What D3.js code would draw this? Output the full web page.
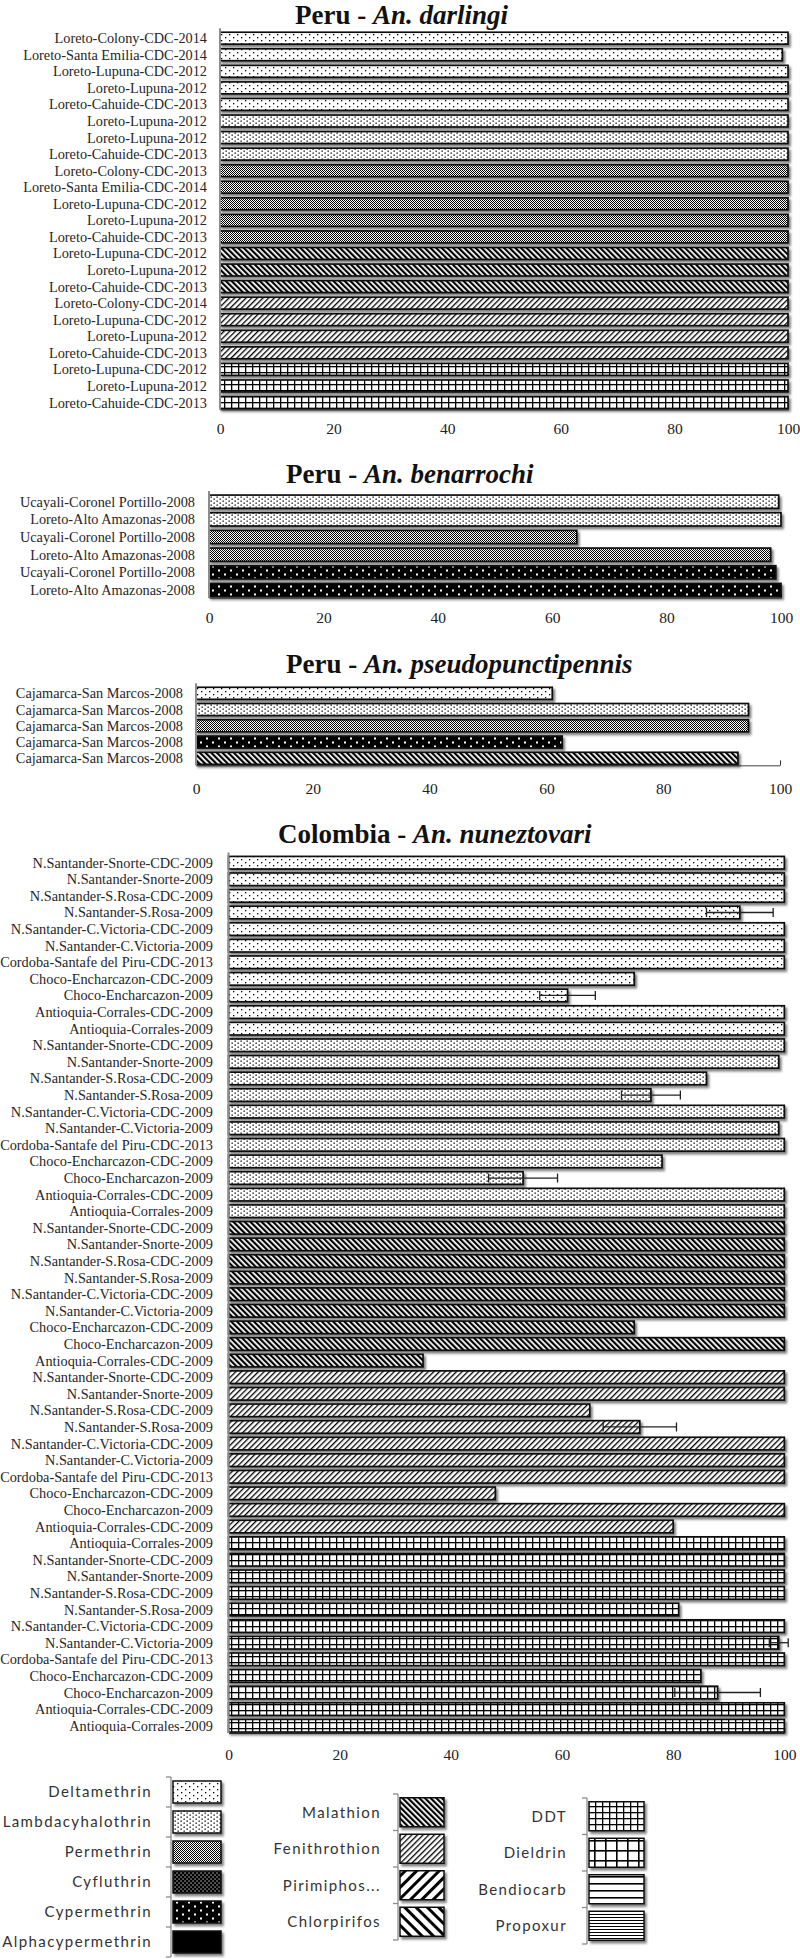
<!DOCTYPE html>
<html>
<head>
<meta charset="utf-8">
<script src="https://cdn.jsdelivr.net/npm/d3@7"></script>
<style>
  body { margin: 0; background: #fff; }
  .site { font-family: "Liberation Serif", serif; font-size: 14.3px; fill: #262626; }
  .title { font-family: "Liberation Serif", serif; font-size: 27px; font-weight: bold; fill: #111; }
  .tick text { font-family: "Liberation Serif", serif; font-size: 15.5px; fill: #222; }
  .leg { font-family: Lato, sans-serif; font-size: 15px; letter-spacing: 1.4px; fill: #333; }
</style>
</head>
<body>
<div id="chart"></div>
<script>
// insecticides, legend order
var insecticides = ["Deltamethrin", "Lambdacyhalothrin", "Permethrin", "Cyfluthrin", "Cypermethrin", "Alphacypermethrin",
  "Malathion", "Fenithrothion", "Pirimiphos...", "Chlorpirifos",
  "DDT", "Dieldrin", "Bendiocarb", "Propoxur"];

var ticks = [0, 20, 40, 60, 80, 100];

// Peru - An. darlingi
var darlingiSites = [
  "Loreto-Colony-CDC-2014", "Loreto-Santa Emilia-CDC-2014", "Loreto-Lupuna-CDC-2012", "Loreto-Lupuna-2012", "Loreto-Cahuide-CDC-2013",
  "Loreto-Lupuna-2012", "Loreto-Lupuna-2012", "Loreto-Cahuide-CDC-2013",
  "Loreto-Colony-CDC-2013", "Loreto-Santa Emilia-CDC-2014", "Loreto-Lupuna-CDC-2012", "Loreto-Lupuna-2012", "Loreto-Cahuide-CDC-2013",
  "Loreto-Lupuna-CDC-2012", "Loreto-Lupuna-2012", "Loreto-Cahuide-CDC-2013",
  "Loreto-Colony-CDC-2014", "Loreto-Lupuna-CDC-2012", "Loreto-Lupuna-2012", "Loreto-Cahuide-CDC-2013",
  "Loreto-Lupuna-CDC-2012", "Loreto-Lupuna-2012", "Loreto-Cahuide-CDC-2013"];
var darlingiGroups = [["Deltamethrin", 5], ["Lambdacyhalothrin", 3], ["Permethrin", 5], ["Malathion", 3], ["Fenithrothion", 4], ["DDT", 3]];
var darlingiValues = [100, 99, 100, 100, 100, 100, 100, 100, 100, 100, 100, 100, 100, 100, 100, 100, 100, 100, 100, 100, 100, 100, 100];

// Peru - An. benarrochi
var benarrochiSites = ["Ucayali-Coronel Portillo-2008", "Loreto-Alto Amazonas-2008", "Ucayali-Coronel Portillo-2008",
  "Loreto-Alto Amazonas-2008", "Ucayali-Coronel Portillo-2008", "Loreto-Alto Amazonas-2008"];
var benarrochiGroups = [["Lambdacyhalothrin", 2], ["Permethrin", 2], ["Cypermethrin", 2]];
var benarrochiValues = [99.6, 100, 64.3, 98.2, 99.1, 100];

// Peru - An. pseudopunctipennis
var pseudoSites = ["Cajamarca-San Marcos-2008", "Cajamarca-San Marcos-2008", "Cajamarca-San Marcos-2008",
  "Cajamarca-San Marcos-2008", "Cajamarca-San Marcos-2008"];
var pseudoGroups = [["Deltamethrin", 1], ["Lambdacyhalothrin", 1], ["Permethrin", 1], ["Cypermethrin", 1], ["Malathion", 1]];
var pseudoValues = [61, 94.6, 94.6, 62.7, 92.8];

// Colombia - An. nuneztovari
var colombiaSites = [
  "N.Santander-Snorte-CDC-2009", "N.Santander-Snorte-2009", "N.Santander-S.Rosa-CDC-2009", "N.Santander-S.Rosa-2009",
  "N.Santander-C.Victoria-CDC-2009", "N.Santander-C.Victoria-2009", "Cordoba-Santafe del Piru-CDC-2013",
  "Choco-Encharcazon-CDC-2009", "Choco-Encharcazon-2009", "Antioquia-Corrales-CDC-2009", "Antioquia-Corrales-2009",
  "N.Santander-Snorte-CDC-2009", "N.Santander-Snorte-2009", "N.Santander-S.Rosa-CDC-2009", "N.Santander-S.Rosa-2009",
  "N.Santander-C.Victoria-CDC-2009", "N.Santander-C.Victoria-2009", "Cordoba-Santafe del Piru-CDC-2013",
  "Choco-Encharcazon-CDC-2009", "Choco-Encharcazon-2009", "Antioquia-Corrales-CDC-2009", "Antioquia-Corrales-2009",
  "N.Santander-Snorte-CDC-2009", "N.Santander-Snorte-2009", "N.Santander-S.Rosa-CDC-2009", "N.Santander-S.Rosa-2009",
  "N.Santander-C.Victoria-CDC-2009", "N.Santander-C.Victoria-2009",
  "Choco-Encharcazon-CDC-2009", "Choco-Encharcazon-2009", "Antioquia-Corrales-CDC-2009",
  "N.Santander-Snorte-CDC-2009", "N.Santander-Snorte-2009", "N.Santander-S.Rosa-CDC-2009", "N.Santander-S.Rosa-2009",
  "N.Santander-C.Victoria-CDC-2009", "N.Santander-C.Victoria-2009", "Cordoba-Santafe del Piru-CDC-2013",
  "Choco-Encharcazon-CDC-2009", "Choco-Encharcazon-2009", "Antioquia-Corrales-CDC-2009",
  "Antioquia-Corrales-2009", "N.Santander-Snorte-CDC-2009", "N.Santander-Snorte-2009", "N.Santander-S.Rosa-CDC-2009",
  "N.Santander-S.Rosa-2009", "N.Santander-C.Victoria-CDC-2009", "N.Santander-C.Victoria-2009",
  "Cordoba-Santafe del Piru-CDC-2013", "Choco-Encharcazon-CDC-2009", "Choco-Encharcazon-2009",
  "Antioquia-Corrales-CDC-2009", "Antioquia-Corrales-2009"];
var colombiaGroups = [["Deltamethrin", 11], ["Lambdacyhalothrin", 11], ["Malathion", 9], ["Fenithrothion", 10], ["DDT", 12]];
var colombiaValues = [
  100, 100, 100, 92, 100, 100, 100, 73, 61, 100, 100,
  100, 99, 86, 76, 100, 99, 100, 78, 53, 100, 100,
  100, 100, 100, 100, 100, 100, 73, 100, 35,
  100, 100, 65, 74, 100, 100, 100, 48, 100, 80,
  100, 100, 100, 100, 81, 100, 99, 100, 85, 88, 100, 100];
var colombiaErrors = [
  0, 0, 0, 6, 0, 0, 0, 0, 5, 0, 0,
  0, 0, 0, 5.3, 0, 0, 0, 0, 6.2, 0, 0,
  0, 0, 0, 0, 0, 0, 0, 0, 0,
  0, 0, 0, 6.6, 0, 0, 0, 0, 0, 0,
  0, 0, 0, 0, 0, 0, 1.7, 0, 0, 7.7, 0, 0];

// layout of each panel (pixels)
var panels = [
  {country: "Peru", species: "An. darlingi", sites: darlingiSites, groups: darlingiGroups, values: darlingiValues,
   x0: 220, x1: 788, c0: 38.2, c1: 402.5, pad: 0.28, labelX: 207, titleX: 295, titleY: 23.5, labelY: 434},
  {country: "Peru", species: "An. benarrochi", sites: benarrochiSites, groups: benarrochiGroups, values: benarrochiValues,
   x0: 209, x1: 781, c0: 501.7, c1: 590, pad: 0.25, labelX: 195, titleX: 286, titleY: 483, labelY: 623},
  {country: "Peru", species: "An. pseudopunctipennis", sites: pseudoSites, groups: pseudoGroups, values: pseudoValues,
   x0: 196, x1: 780, c0: 693.3, c1: 758.3, pad: 0.26, labelX: 183, titleX: 286, titleY: 673, labelY: 794},
  {country: "Colombia", species: "An. nuneztovari", sites: colombiaSites, groups: colombiaGroups, values: colombiaValues,
   errors: colombiaErrors,
   x0: 228.5, x1: 784.3, c0: 862.7, c1: 1725.7, pad: 0.24, labelX: 213, titleX: 278, titleY: 843, labelY: 1760}
];

var width = 800, height = 1959;

var svg = d3.select("#chart").append("svg")
    .attr("width", width)
    .attr("height", height);

var defs = svg.append("defs");

// drop shadow under bars and swatches
var filter = defs.append("filter").attr("id", "shadow")
    .attr("x", "-5%").attr("y", "-40%").attr("width", "115%").attr("height", "200%");
filter.append("feDropShadow")
    .attr("dx", 2).attr("dy", 2.5).attr("stdDeviation", 1.2)
    .attr("flood-color", "#000").attr("flood-opacity", 0.5);

// fill patterns, one per insecticide
function pattern(id, w, h, bg, rot) {
  var p = defs.append("pattern").attr("id", id)
      .attr("patternUnits", "userSpaceOnUse")
      .attr("width", w).attr("height", h);
  if (rot) p.attr("patternTransform", "rotate(" + rot + ")");
  p.append("rect").attr("width", w).attr("height", h).attr("fill", bg);
  return p;
}
function dot(p, x, y, s, c) {
  p.append("rect").attr("x", x).attr("y", y).attr("width", s).attr("height", s).attr("fill", c);
}

var p;
p = pattern("pat0", 8, 6, "#fff"); dot(p, 1, 1, 1.3, "#000"); dot(p, 5, 4, 1.3, "#000");
p = pattern("pat1", 6, 4, "#fff"); dot(p, 0.5, 0.5, 1.3, "#000"); dot(p, 3.5, 2.5, 1.3, "#000");
p = pattern("pat2", 2, 2, "#fff"); dot(p, 0, 0, 1, "#000"); dot(p, 1, 1, 1, "#000");
p = pattern("pat3", 4, 4, "#000"); dot(p, 0.5, 0.5, 1.1, "#fff"); dot(p, 2.5, 2.5, 1.1, "#fff");
p = pattern("pat4", 12, 8, "#000"); dot(p, 2, 1.5, 2, "#fff"); dot(p, 8, 5.5, 2, "#fff");
p = pattern("pat5", 4, 4, "#000");
p = pattern("pat6", 4, 4, "#fff", -45); p.append("rect").attr("width", 2.2).attr("height", 4).attr("fill", "#000");
p = pattern("pat7", 4, 4, "#fff", 45); p.append("rect").attr("width", 1.3).attr("height", 4).attr("fill", "#000");
p = pattern("pat8", 8, 8, "#fff", 45); p.append("rect").attr("width", 3).attr("height", 8).attr("fill", "#000");
p = pattern("pat9", 8, 8, "#fff", -45); p.append("rect").attr("width", 3).attr("height", 8).attr("fill", "#000");
p = pattern("pat10", 7, 6, "#fff");
p.append("rect").attr("width", 1.3).attr("height", 6).attr("fill", "#000");
p.append("rect").attr("width", 7).attr("height", 1.3).attr("fill", "#000");
p = pattern("pat11", 11, 10, "#fff");
p.append("rect").attr("width", 1.6).attr("height", 10).attr("fill", "#000");
p.append("rect").attr("width", 11).attr("height", 1.6).attr("fill", "#000");
p = pattern("pat12", 4, 7, "#fff"); p.append("rect").attr("width", 4).attr("height", 1.6).attr("fill", "#000");
p = pattern("pat13", 4, 3, "#fff"); p.append("rect").attr("width", 4).attr("height", 1).attr("fill", "#000");

function fillOf(name) {
  return "url(#pat" + insecticides.indexOf(name) + ")";
}

function expand(groups) {
  var out = [];
  groups.forEach(function(g) {
    for (var i = 0; i < g[1]; i++) out.push(g[0]);
  });
  return out;
}

function drawPanel(cfg) {
  var n = cfg.sites.length;
  var step = (cfg.c1 - cfg.c0) / (n - 1);
  var ins = expand(cfg.groups);

  var y = d3.scaleBand()
      .domain(d3.range(n))
      .range([cfg.c0 - step * (1 + cfg.pad) / 2, cfg.c1 + step * (1 + cfg.pad) / 2])
      .paddingInner(cfg.pad)
      .paddingOuter(cfg.pad);

  var x = d3.scaleLinear().domain([0, 100]).range([cfg.x0, cfg.x1]);

  var rows = d3.range(n).map(function(i) {
    return {i: i, site: cfg.sites[i], ins: ins[i], v: cfg.values[i], e: cfg.errors ? cfg.errors[i] : 0};
  });

  var g = svg.append("g");

  // title
  var t = g.append("text").attr("class", "title")
      .attr("x", cfg.titleX).attr("y", cfg.titleY);
  t.append("tspan").text(cfg.country + " - ");
  t.append("tspan").attr("font-style", "italic").text(cfg.species);

  // site labels
  g.selectAll(".site").data(rows).enter().append("text")
      .attr("class", "site")
      .attr("x", cfg.labelX)
      .attr("y", function(d) { return y(d.i) + y.bandwidth() / 2; })
      .attr("dy", "0.35em")
      .attr("text-anchor", "end")
      .text(function(d) { return d.site; });

  // bottom axis
  var axisY = y(n - 1) + y.bandwidth() + 1;
  var ax = g.append("g")
      .attr("transform", "translate(0," + axisY + ")")
      .call(d3.axisBottom(x).tickValues(ticks).tickSizeInner(-5).tickSizeOuter(0)
        .tickPadding(cfg.labelY - axisY - 11));
  ax.select(".domain").attr("stroke", "#444");
  ax.selectAll(".tick line").attr("stroke", "#333");

  // bars
  g.selectAll(".bar").data(rows).enter().append("rect")
      .attr("class", "bar")
      .attr("x", x(0))
      .attr("y", function(d) { return y(d.i); })
      .attr("width", function(d) { return x(d.v) - x(0); })
      .attr("height", y.bandwidth())
      .attr("fill", function(d) { return fillOf(d.ins); })
      .attr("stroke", "#111")
      .attr("stroke-width", 1.7)
      .attr("filter", "url(#shadow)");

  // left axis line
  g.append("line")
      .attr("x1", x(0)).attr("x2", x(0))
      .attr("y1", y(0) - 4).attr("y2", axisY)
      .attr("stroke", "#8c8c8c").attr("stroke-width", 2);

  // error bars
  var eb = g.selectAll(".err").data(rows.filter(function(d) { return d.e > 0; })).enter()
      .append("g").attr("class", "err")
      .attr("stroke", "#222").attr("stroke-width", 1.3);
  eb.append("line")
      .attr("x1", function(d) { return x(d.v - d.e); })
      .attr("x2", function(d) { return x(d.v + d.e); })
      .attr("y1", function(d) { return y(d.i) + y.bandwidth() / 2; })
      .attr("y2", function(d) { return y(d.i) + y.bandwidth() / 2; });
  [-1, 1].forEach(function(s) {
    eb.append("line")
        .attr("x1", function(d) { return x(d.v + s * d.e); })
        .attr("x2", function(d) { return x(d.v + s * d.e); })
        .attr("y1", function(d) { return y(d.i) + y.bandwidth() / 2 - 4.5; })
        .attr("y2", function(d) { return y(d.i) + y.bandwidth() / 2 + 4.5; });
  });
}

panels.forEach(drawPanel);

// legend, three columns
var legendCols = [
  {names: insecticides.slice(0, 6), axisX: 171, y0: 1777, step: 30, sw: 48, sh: 22, labelX: 152},
  {names: insecticides.slice(6, 10), axisX: 398, y0: 1794, step: 36.5, sw: 44, sh: 29, labelX: 381},
  {names: insecticides.slice(10, 14), axisX: 587, y0: 1798, step: 36.5, sw: 55, sh: 29, labelX: 567}
];

legendCols.forEach(function(col) {
  var ly = d3.scaleBand().domain(col.names)
      .range([col.y0, col.y0 + col.step * col.names.length]);
  var lg = svg.append("g");

  lg.append("line")
      .attr("x1", col.axisX).attr("x2", col.axisX)
      .attr("y1", ly.range()[0]).attr("y2", ly.range()[1])
      .attr("stroke", "#8c8c8c").attr("stroke-width", 1.3);
  lg.selectAll(".ltick").data(col.names.concat(["end"])).enter().append("line")
      .attr("x1", col.axisX - 5).attr("x2", col.axisX)
      .attr("y1", function(d, i) { return ly.range()[0] + i * ly.step(); })
      .attr("y2", function(d, i) { return ly.range()[0] + i * ly.step(); })
      .attr("stroke", "#8c8c8c").attr("stroke-width", 1.3);

  lg.selectAll(".sw").data(col.names).enter().append("rect")
      .attr("x", col.axisX + 2)
      .attr("y", function(d) { return ly(d) + ly.bandwidth() / 2 - col.sh / 2; })
      .attr("width", col.sw)
      .attr("height", col.sh)
      .attr("fill", function(d) { return fillOf(d); })
      .attr("stroke", "#111").attr("stroke-width", 1.5)
      .attr("filter", "url(#shadow)");

  lg.selectAll(".leg").data(col.names).enter().append("text")
      .attr("class", "leg")
      .attr("x", col.labelX)
      .attr("y", function(d) { return ly(d) + ly.bandwidth() / 2; })
      .attr("dy", "0.35em")
      .attr("text-anchor", "end")
      .text(function(d) { return d; });
});
</script>
</body>
</html>
